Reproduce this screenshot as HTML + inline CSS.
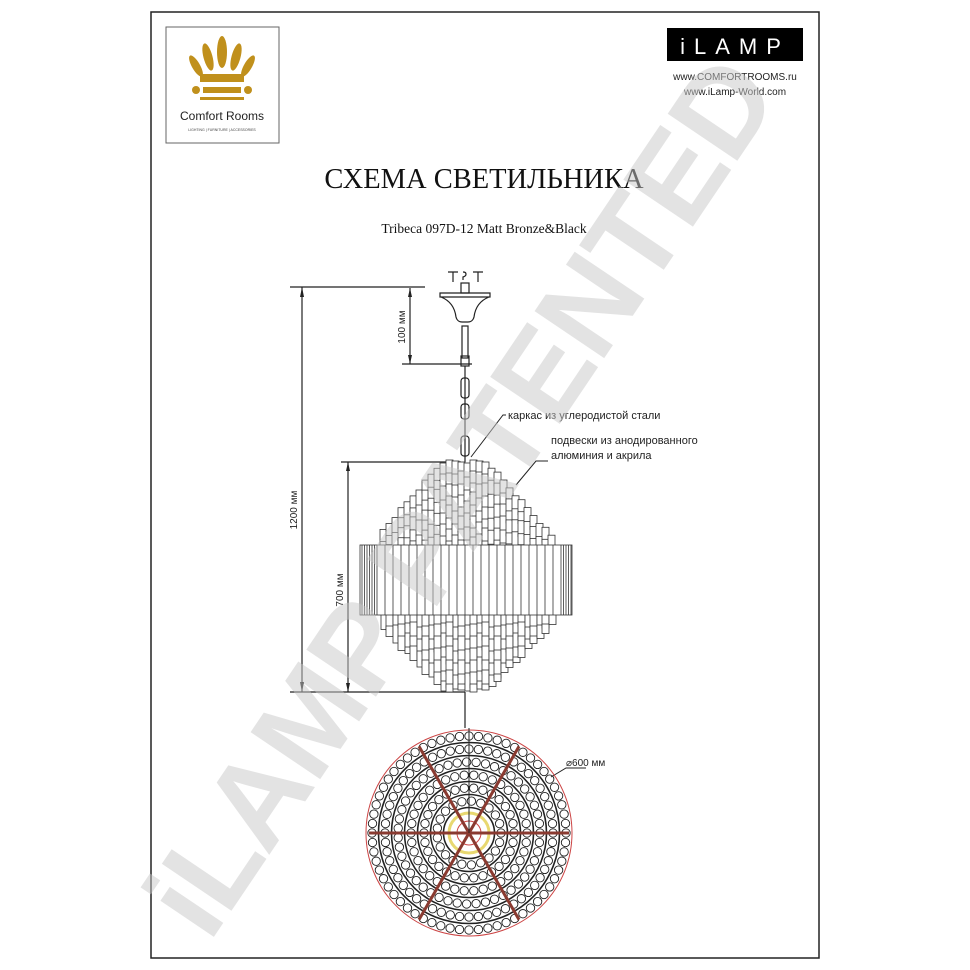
<!DOCTYPE html>
<html><head><meta charset="utf-8"><style>
html,body{margin:0;padding:0;background:#fff;}
#wrap{position:relative;width:970px;height:970px;overflow:hidden;background:#fff;}
svg{position:absolute;left:0;top:0;}
</style></head><body><div id="wrap">
<svg width="970" height="970" viewBox="0 0 970 970" xmlns="http://www.w3.org/2000/svg">
<rect x="151" y="12" width="668" height="946" fill="none" stroke="#222" stroke-width="1.5"/>
<rect x="166" y="27" width="113" height="116" fill="#fff" stroke="#666" stroke-width="1"/>
<g fill="#c0901c">
<ellipse cx="222" cy="52" rx="5" ry="16"/>
<ellipse cx="208" cy="57" rx="4.5" ry="14" transform="rotate(-15 208 57)"/>
<ellipse cx="236" cy="57" rx="4.5" ry="14" transform="rotate(15 236 57)"/>
<ellipse cx="196" cy="66" rx="4" ry="12" transform="rotate(-30 196 66)"/>
<ellipse cx="248" cy="66" rx="4" ry="12" transform="rotate(30 248 66)"/>
<rect x="200" y="74" width="44" height="8"/>
<circle cx="196" cy="90" r="4"/><circle cx="248" cy="90" r="4"/>
<rect x="203" y="87" width="38" height="6"/>
<rect x="200" y="97" width="44" height="3"/>
</g>
<text x="222" y="120" font-family="Liberation Sans,sans-serif" font-size="12" text-anchor="middle" fill="#222">Comfort Rooms</text>
<text x="222" y="131" font-family="Liberation Sans,sans-serif" font-size="3.5" text-anchor="middle" fill="#444">LIGHTING | FURNITURE | ACCESSORIES</text>
<rect x="667" y="28" width="136" height="33" fill="#000"/>
<text x="735" y="54" font-family="Liberation Sans,sans-serif" font-size="22" text-anchor="middle" fill="#fff" letter-spacing="9">iLAMP</text>
<text x="735" y="80" font-family="Liberation Sans,sans-serif" font-size="10" text-anchor="middle" fill="#222">www.COMFORTROOMS.ru</text>
<text x="735" y="95" font-family="Liberation Sans,sans-serif" font-size="10" text-anchor="middle" fill="#222">www.iLamp-World.com</text>
<text x="484" y="188" font-family="Liberation Serif,serif" font-size="28.5" text-anchor="middle" fill="#111">СХЕМА СВЕТИЛЬНИКА</text>
<text x="484" y="233" font-family="Liberation Serif,serif" font-size="13.5" text-anchor="middle" fill="#111">Tribeca 097D-12 Matt Bronze&amp;Black</text>
<g stroke="#222" fill="none" stroke-width="1.2">
<path d="M448 272h10M453 272v10M473 272h10M478 272v10M463 272c4 0 4 4 0 5v3"/>
<rect x="461" y="283" width="8" height="10"/>
<path d="M440 293h50v4h-50zM441 297c10 4 14 12 15 20c1 4 4 5 6 5h6c2 0 5-1 6-5c1-8 5-16 15-20"/>
<rect x="462" y="326" width="6" height="32"/>
<rect x="461" y="356" width="8" height="10"/>
<rect x="461" y="378" width="8" height="20" rx="3"/>
<rect x="461" y="404" width="8" height="15" rx="3"/>
<rect x="461" y="436" width="8" height="20" rx="3"/>
<path d="M465 366v96"/>
<path d="M290 287h135M410 288v76M402 364h70M302 287v405M290 692h175M348 462v230M341 462h120"/>
<path d="M465 692v36"/>
</g>
<g fill="#222"><path d="M302 287l-2 10h4zM302 692l-2-10h4zM410 288l-2 9h4zM410 364l-2-9h4zM348 462l-2 9h4zM348 692l-2-9h4z"/></g>
<g font-family="Liberation Sans,sans-serif" font-size="10" fill="#222">
<text transform="translate(297 510) rotate(-90)" text-anchor="middle">1200 мм</text>
<text transform="translate(343 590) rotate(-90)" text-anchor="middle">700 мм</text>
<text transform="translate(405 327) rotate(-90)" text-anchor="middle">100 мм</text>
<text x="508" y="419" font-size="11">каркас из углеродистой стали</text>
<text x="551" y="444" font-size="11">подвески из анодированного</text>
<text x="551" y="459" font-size="11">алюминия и акрила</text>
<text x="566" y="766">⌀600 мм</text>
</g>
<g stroke="#222" stroke-width="1" fill="none">
<path d="M506 415h-3l-32 42M548 461h-12l-20 24M586 768h-20l-15 9"/>
</g>
<g id="chand" stroke="#333" stroke-width="0.8" fill="#fff"></g>
<g id="plan" fill="none"></g>
<text x="0" y="0" transform="translate(495 520) rotate(-56)" font-family="Liberation Sans,sans-serif" font-weight="bold" font-size="122" text-anchor="middle" fill="#c8c8c8" fill-opacity="0.5" letter-spacing="-2">iLAMP PATENTED</text>
</svg>
<script>
(function(){
var ns="http://www.w3.org/2000/svg";
function el(p,t,a){var e=document.createElementNS(ns,t);for(var k in a)e.setAttribute(k,a[k]);p.appendChild(e);return e;}
var g=document.getElementById('chand');
var cx=465,i=0;
for(var x=380;x<=548;x+=6){i++;
 var d=Math.abs(x+3.5-cx);
 var top=460+Math.max(0,d-22)*1.15+((i*5)%4);
 if(top>538)top=538;
 var yy=top;
 while(yy<545){var h=12+((i*7+Math.round(yy))%5);el(g,'rect',{x:x.toFixed(1),y:yy.toFixed(1),width:7,height:Math.min(h,548-yy).toFixed(1)});yy+=h-3+((i%2)*2);}
 var bot=692-Math.max(0,d-22)*1.0-((i*3)%4);
 yy=612;
 while(yy<bot){var h=14+((i*5+Math.round(yy))%6);var hh=Math.min(h,bot-yy);if(hh<5)break;el(g,'rect',{x:(x+((i%2)?1:0)).toFixed(1),y:yy.toFixed(1),width:7,height:hh.toFixed(1)});yy+=h-4;}
}
el(g,'rect',{x:360,y:545,width:212,height:70});
for(var x=362;x<572;x+=(x<375||x>558)?2.5:8){el(g,'line',{x1:x,y1:545,x2:x,y2:615});}
var p=document.getElementById('plan');var pc=469,py=833;
el(p,'circle',{cx:pc,cy:py,r:103,stroke:'#c44',"stroke-width":1});
var rings=[97,84,71,58,45,32];
rings.forEach(function(r,i){var n=Math.floor(2*Math.PI*r/9.4);
 for(var k=0;k<n;k++){var a=2*Math.PI*k/n;el(p,'circle',{cx:(pc+r*Math.cos(a)).toFixed(1),cy:(py+r*Math.sin(a)).toFixed(1),r:4.2,stroke:'#222',"stroke-width":0.9});}
 el(p,'circle',{cx:pc,cy:py,r:r-6.5,stroke:'#222',"stroke-width":1.6});});
el(p,'circle',{cx:pc,cy:py,r:20,stroke:'#e8d870',"stroke-width":3});
el(p,'circle',{cx:pc,cy:py,r:12,stroke:'#c44',"stroke-width":1});
[0,60,120].forEach(function(d){var a=d*Math.PI/180;
 el(p,'line',{x1:pc-100*Math.cos(a),y1:py-100*Math.sin(a),x2:pc+100*Math.cos(a),y2:py+100*Math.sin(a),stroke:'#8a3a30',"stroke-width":3});});
el(p,'line',{x1:pc,y1:728,x2:pc,y2:py,stroke:'#222',"stroke-width":1});
})();
</script>
</div></body></html>
